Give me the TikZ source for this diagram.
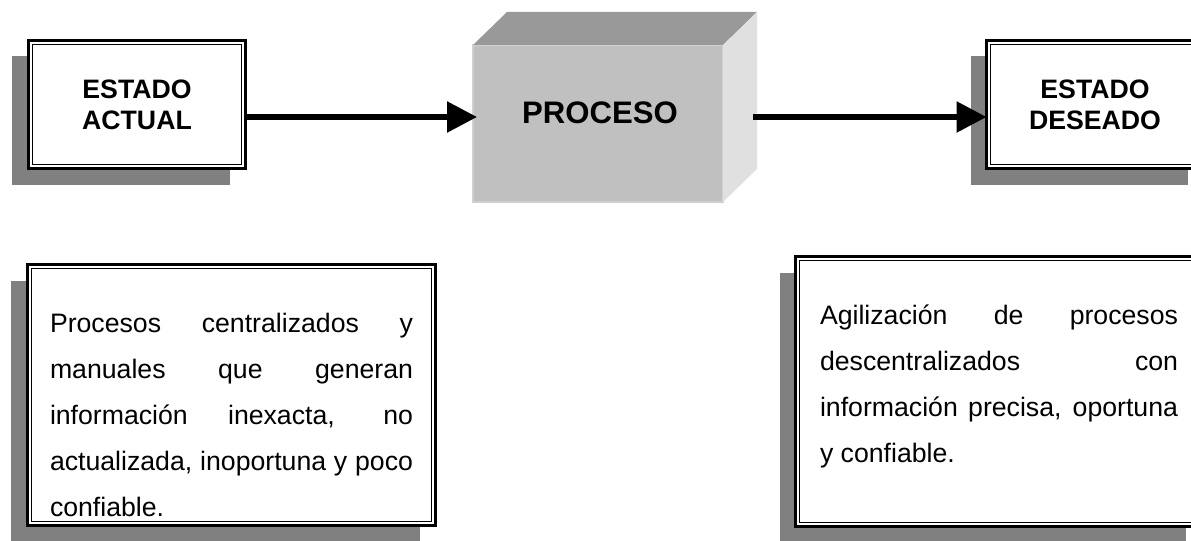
\documentclass[tikz,border=0pt]{standalone}
\usepackage{fontspec}
\setmainfont{Liberation Sans}
\usetikzlibrary{arrows.meta,shadows}
\definecolor{shadowgray}{HTML}{808080}
\definecolor{frontgray}{HTML}{C0C0C0}
\definecolor{topgray}{HTML}{999999}
\definecolor{sidegray}{HTML}{E0E0E0}
\definecolor{edgegray}{HTML}{D0D0D0}
\newcommand\innerfr[1]{\draw[innerline] ([shift={(1.9pt,-1.9pt)}]#1.north west) rectangle ([shift={(-1.9pt,1.9pt)}]#1.south east);}
\newcommand\jline[2]{\makebox[#1][s]{#2}}
\begin{document}
\begin{tikzpicture}[x=0.45pt,y=-0.45pt,
  frame/.style={draw, line width=1.4pt, fill=white, inner sep=0pt, outer sep=0pt,
    general shadow={fill=shadowgray, shadow xshift=-7.2pt, shadow yshift=-7.2pt}},
  innerline/.style={line width=0.65pt},
  headtext/.style={font=\fontsize{12}{13.8}\selectfont\bfseries, align=center},
  bodytext/.style={font=\fontsize{12}{20.7}\selectfont, inner sep=0pt, outer sep=0pt, anchor=base west, align=left},
  cubefront/.style={fill=frontgray, draw=edgegray, line width=0.5pt, inner sep=0pt, outer sep=0pt},
  arr/.style={line width=2.5pt, -{Triangle[length=13.5pt,width=13.5pt]}}]
\useasboundingbox (0,0) rectangle (1191,540);
\clip (0,0) rectangle (1191,540);

% top row frames
\node[frame, headtext, minimum width=97.65pt, minimum height=57.6pt] (actual) at (137,104.5) {ESTADO\\ACTUAL};
\innerfr{actual}
\node[frame, headtext, minimum width=97.65pt, minimum height=57.6pt] (deseado) at (1095,104.5) {ESTADO\\DESEADO};
\innerfr{deseado}

% process cube
\node[cubefront, minimum width=112.5pt, minimum height=70.65pt] (proceso) at (598,123.5) {};
\fill[topgray] (proceso.north west) -- ++(34,-33) -- ([shift={(34,-33)}]proceso.north east) -- (proceso.north east) -- cycle;
\fill[sidegray] (proceso.north east) -- ++(34,-33) -- ([shift={(34,-33)}]proceso.south east) -- (proceso.south east) -- cycle;
\node[font=\fontsize{14}{16}\selectfont\bfseries] (procesotxt) at (600,113) {PROCESO};

% arrows
\draw[arr] ([yshift=-5.625pt]actual.east) -- ([xshift=1.8pt,yshift=2.925pt]proceso.west);
\coordinate (a2start) at ([xshift=13.5pt,yshift=2.925pt]proceso.east);
\draw[arr] (a2start) -- ([yshift=-5.625pt]deseado.west);

% bottom frames
\node[frame, minimum width=183.6pt, minimum height=117.45pt] (izq) at (231.5,395) {};
\innerfr{izq}
\node[frame, minimum width=182.7pt, minimum height=121.5pt] (der) at (998.5,391.5) {};
\innerfr{der}

% text nodes anchored at the baseline of their last line
\node[bodytext] (izqtxt) at (50,516) {%
\jline{163.35pt}{Procesos centralizados y}\\
\jline{163.35pt}{manuales que generan}\\
\jline{163.35pt}{información inexacta, no}\\
\jline{163.35pt}{actualizada, inoportuna y poco}\\
confiable.};

\node[bodytext] (dertxt) at (820,462) {%
\jline{161.1pt}{Agilización de procesos}\\
\jline{161.1pt}{descentralizados con}\\
\jline{161.1pt}{información precisa, oportuna}\\
y confiable.};
\end{tikzpicture}
\end{document}
